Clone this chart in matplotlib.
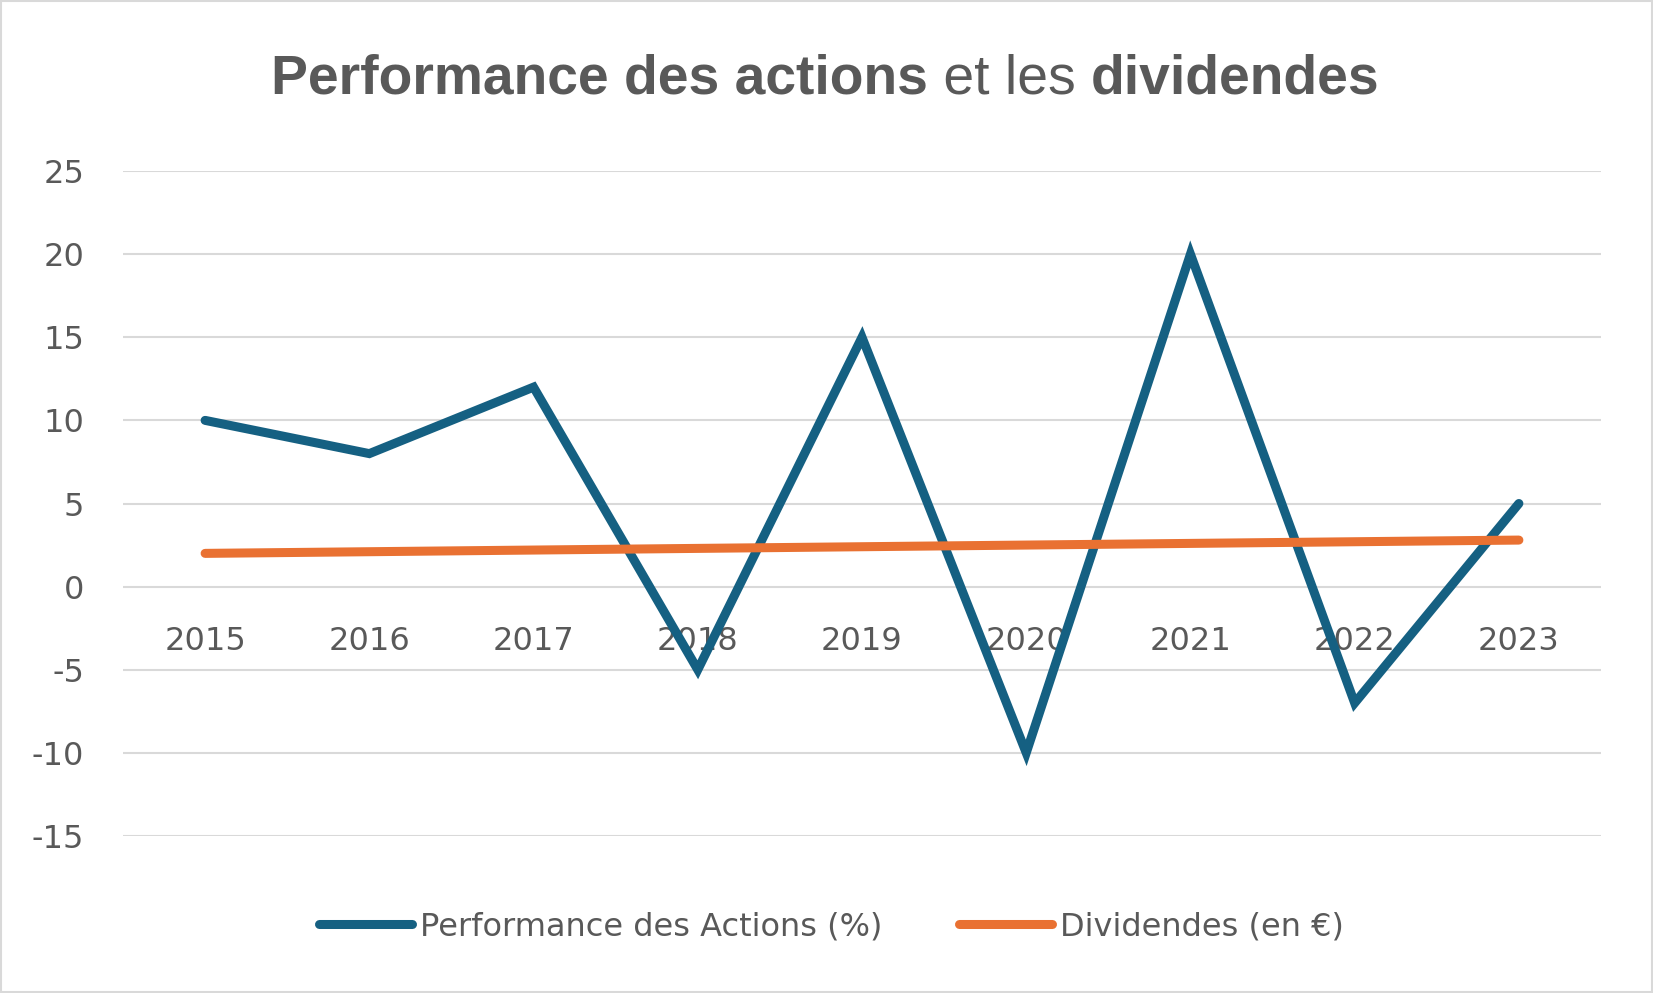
import matplotlib.pyplot as plt
from matplotlib.patches import Rectangle

plt.rcParams['axes.unicode_minus'] = False

# données du graphique
annees = ['2015', '2016', '2017', '2018', '2019', '2020', '2021', '2022', '2023']
performance = [10, 8, 12, -5, 15, -10, 20, -7, 5]
dividendes = [2.0, 2.1, 2.2, 2.3, 2.4, 2.5, 2.6, 2.7, 2.8]
titre_parts = [('Performance des actions', 'bold'), (' et les ', 'normal'), ('dividendes', 'bold')]

bleu = '#156082'
orange = '#E97132'
gris_texte = '#595959'
gris_grille = '#D9D9D9'

W, H = 1653, 993
fig = plt.figure(figsize=(W / 100, H / 100), dpi=100)
fig.patch.set_facecolor('white')
fig.patches.append(Rectangle((0.0008, 0.0012), 0.9984, 0.9976, transform=fig.transFigure,
                             fill=False, edgecolor=gris_grille, linewidth=1.5))

ax = fig.add_axes([123 / W, 1 - 836 / H, (1601 - 123) / W, (836 - 171) / H])
x = list(range(len(annees)))
ax.plot(x, performance, color=bleu, lw=6.5, solid_capstyle='round', solid_joinstyle='miter',
        label='Performance des Actions (%)', zorder=3, clip_on=False)
ax.plot(x, dividendes, color=orange, lw=6.5, solid_capstyle='round',
        label='Dividendes (en €)', zorder=4, clip_on=False)

ax.set_xlim(-0.5, len(annees) - 0.5)
ax.set_ylim(-15, 25)
ax.set_yticks(range(-15, 26, 5))
ax.grid(axis='y', color=gris_grille, lw=1.5)
ax.set_axisbelow(True)
for s in ['top', 'right', 'left']:
    ax.spines[s].set_visible(False)
ax.spines['bottom'].set_position(('data', 0))
ax.spines['bottom'].set_visible(False)
ax.set_xticks(x)
ax.set_xticklabels(annees)
ax.tick_params(axis='x', length=0, pad=28, labelsize=23, labelcolor=gris_texte)
ax.tick_params(axis='y', length=0, pad=28, labelsize=23, labelcolor=gris_texte)
for lab in ax.get_xticklabels():
    lab.set_zorder(5)

# titre en plusieurs morceaux (gras / normal)
fig.canvas.draw()
r = fig.canvas.get_renderer()
taille = 40
txts = [fig.text(0, 0, t, fontsize=taille, fontweight=w, color=gris_texte,
                 family='Liberation Sans', va='center') for t, w in titre_parts]
largeurs = [t.get_window_extent(r).width for t in txts]
facteur = 1107 / sum(largeurs)
for t in txts:
    t.set_fontsize(taille * facteur)
largeurs = [t.get_window_extent(r).width for t in txts]
x0 = 825 - sum(largeurs) / 2
for t, l in zip(txts, largeurs):
    t.set_position((x0 / W, 1 - 80 / H))
    x0 += l

fig.legend(loc='center', bbox_to_anchor=(0.503, 1 - 927 / H), ncol=2, frameon=False,
           fontsize=23, labelcolor=gris_texte, handlelength=2.9, handletextpad=0.25,
           columnspacing=2.4)

fig.savefig('out.png', dpi=100)
